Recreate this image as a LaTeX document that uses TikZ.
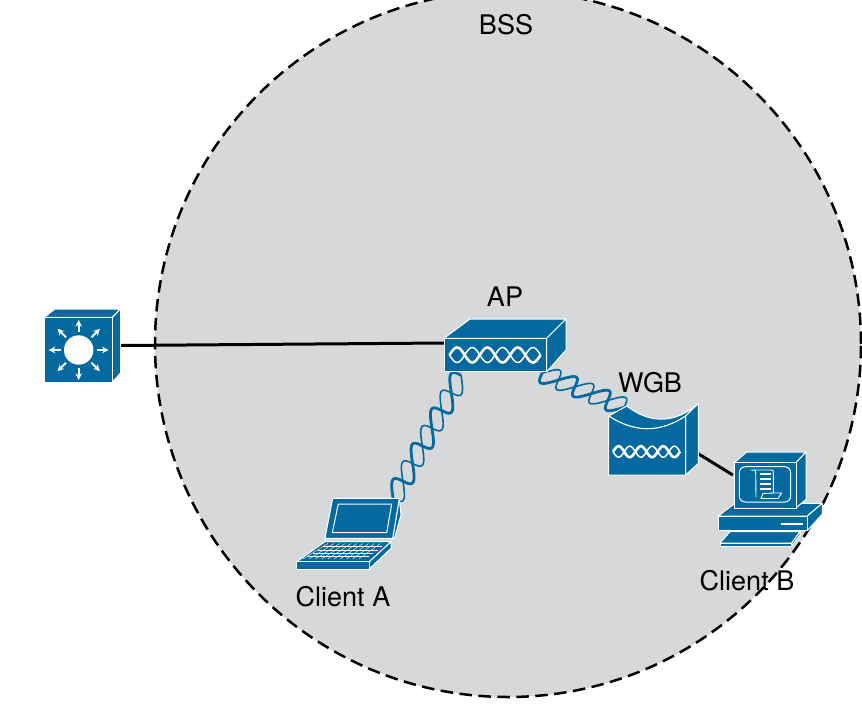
\documentclass[tikz,border=0pt]{standalone}
\usepackage{fontspec}
\setmainfont{TeX Gyre Heros}
\usetikzlibrary{calc}
\definecolor{ciscoblue}{HTML}{04699E}
\definecolor{cellgray}{HTML}{D7D8DA}
\tikzstyle{cell} = [draw, circle, fill=cellgray, line width=2.5pt, dash pattern=on 12.5pt off 6.5pt, minimum size=706pt, inner sep=0pt]
\tikzstyle{device} = [rectangle, inner sep=0pt]
\tikzstyle{tag} = [inner sep=0pt, font=\fontsize{27}{30}\selectfont]
\tikzstyle{wire} = [draw, line width=3pt]
\tikzstyle{radio} = [draw=ciscoblue, line join=round]
\tikzstyle{face} = [fill=ciscoblue, draw=white, line width=1pt, line join=round]
\tikzstyle{trim} = [draw=white, line width=1pt]
\newcommand{\helixmark}[5]{% x start, x end, y centre, amplitude, lobes
  \draw [white, line width=1.5pt] plot [domain=#1:#2, samples=90, smooth] (\x, {#3+#4*sin((\x-#1)/(#2-#1)*180*#5)});
  \draw [white, line width=2.6pt] plot [domain=#1:#2, samples=90, smooth] (\x, {#3-#4*sin((\x-#1)/(#2-#1)*180*#5)});
}
\newcommand{\radiostrand}[5]{% from, to, periods, side, width
  \draw [radio, line width=#5] let \p1=(#1), \p2=(#2), \n1={atan2(\y2-\y1,\x2-\x1)}, \n2={veclen(\x2-\x1,\y2-\y1)} in
    plot [variable=\t, domain=0:#3, samples=200]
    ({\x1+(\n2*\t/#3+#4*6*sin(360*\t))*cos(\n1)-#4*9.5*sin(360*\t)*sin(\n1)},
     {\y1+(\n2*\t/#3+#4*6*sin(360*\t))*sin(\n1)+#4*9.5*sin(360*\t)*cos(\n1)});
}
\newcommand{\radiolink}[3]{% from, to, periods
  \radiostrand{#1}{#2}{#3}{1}{1.6pt}
  \radiostrand{#1}{#2}{#3}{-1}{2.8pt}
}
\begin{document}
\begin{tikzpicture}[x=1pt, y=-1pt, >=stealth]
    \useasboundingbox (0,0) rectangle (862,718);
    \clip (0,0) rectangle (862,718);
    \node [cell] (bss) at (508,344) {};

    \node [device, minimum width=76.5pt, minimum height=73pt] (switch) at (82.5,345.5) {};
    \node [device, minimum width=122pt, minimum height=53pt] (ap) at (505,345.5) {};
    \node [device, minimum width=90pt, minimum height=75pt] (wgb) at (653.5,438) {};
    \node [device, minimum width=103pt, minimum height=71pt] (clienta) at (348.5,533.5) {};
    \node [device, minimum width=104pt, minimum height=93pt] (clientb) at (770,498.5) {};

    \node [tag] (bsslabel) at (506,25) {BSS};
    \node [tag] (aplabel) at (505,297) {AP};
    \node [tag] (wgblabel) at (650,383) {WGB};
    \node [tag] (clientalabel) at (343,597) {Client A};
    \node [tag] (clientblabel) at (747,581) {Client B};

    \draw [wire] (switch.east) -- ([yshift=2.5pt]ap.west);
    \draw [wire] ([yshift=-16pt]wgb.east) -- ([xshift=15pt,yshift=23.5pt]clientb.west);
    \radiolink{[xshift=-44pt,yshift=-3pt]ap.south}{[xshift=-7pt,yshift=-1pt]clienta.north east}{3.5}
    \radiolink{[xshift=37pt,yshift=-1pt]ap.south}{[xshift=16pt,yshift=-7pt]wgb.north west}{2.5}

    % switch
    \draw [face] (44.3,317.3) -- (55,309) -- (120.5,309) -- (112.3,317.3) -- cycle;
    \draw [face] (112.3,317.3) -- (120.5,309) -- (120.5,373) -- (112.3,382.3) -- cycle;
    \draw [face] (44.3,317.3) rectangle (112.3,382.3);
    \fill [white] (78.7,350) circle (14.7);
    \foreach \a in {0,45,...,315}
      \draw [->, white, line width=1.9pt] (78.7,350) ++(\a:18) -- ++(\a:12);

    % ap
    \draw [face] (444,338.3) -- (470,319) -- (566,319) -- (546.7,338.3) -- cycle;
    \draw [face] (546.7,338.3) -- (566,319) -- (566,350) -- (546.7,371.7) -- cycle;
    \draw [face] (444,338.3) rectangle (546.7,371.7);
    \helixmark{449.5}{540.5}{355}{7.5}{6}

    % wgb
    \draw [face] (608.7,416) .. controls (635,433) and (660,433) .. (685.7,416)
      -- (698.3,403.5) .. controls (675,424) and (650,424) .. (626.7,406) -- cycle;
    \draw [face] (685.7,416) -- (698.3,403.5) -- (698.3,463.3) -- (685.7,475) -- cycle;
    \draw [face] (608.7,416) .. controls (635,433) and (660,433) .. (685.7,416) -- (685.7,475) -- (608.7,475) -- cycle;
    \helixmark{613}{680}{451.7}{5.5}{6}

    % client a
    \draw [face] (399.3,498.3) -- (401,515) -- (394.5,538.3) -- (392.7,538.3) -- cycle;
    \draw [face] (332.7,498.3) -- (399.3,498.3) -- (392.7,538.3) -- (325,538.3) -- cycle;
    \draw [trim] (338.3,504) -- (391.7,504) -- (386.7,532.7) -- (332.3,532.7) -- cycle;
    \draw [face] (296.7,561.7) -- (325,541.7) -- (391,541.7) -- (369.3,561.7) -- cycle;
    \draw [face] (369.3,561.7) -- (391,541.7) -- (391,548.3) -- (369.3,569) -- cycle;
    \draw [face] (296.7,561.7) rectangle (369.3,569);
    \foreach \t in {0.2,0.4,0.6,0.8}
      \draw [white, line width=.4pt] ($(303,559)!\t!(328,543.5)$) -- ($(365,559)!\t!(386,543.5)$);
    \foreach \t in {0,0.1,...,1}
      \draw [white, line width=.4pt] ($(303,559)!\t!(365,559)$) -- ($(328,543.5)!\t!(386,543.5)$);

    % client b
    \draw [face] (718.3,516) -- (735,503.3) -- (822.3,503.3) -- (807.3,516) -- cycle;
    \draw [face] (807.3,516) -- (822.3,503.3) -- (822.3,514) -- (807.3,530.7) -- cycle;
    \draw [face] (718.3,516) rectangle (807.3,530.7);
    \draw [white, line width=1.7pt] (780.7,524.3) -- (802.7,524.3);
    \draw [face] (734.3,462.7) -- (746.7,452) -- (806,452) -- (796,462.7) -- cycle;
    \draw [face] (796,462.7) -- (806,452) -- (806,499.3) -- (796,508) -- cycle;
    \draw [face] (734.3,462.7) rectangle (796,508);
    \draw [trim, rounded corners=6pt] (739.3,466.7) rectangle (790.7,502);
    \draw [trim, line width=.9pt] (756,497) -- (755.7,474) .. controls (755.7,470) .. (750.5,470) -- (771,470)
      .. controls (773.3,470) .. (773.3,474) -- (773.3,493) -- (781.5,493) -- (778,498.5) -- (761,498.5) -- (763,493.5) -- (773.3,493);
    \foreach \yy in {474,479,484,489}
      \draw [white, line width=1.2pt] (760,\yy) -- (770.5,\yy);
    \draw [face] (720,543) -- (730,531.7) -- (800,531.7) -- (791.7,543) -- cycle;
    \draw [face] (720,543) rectangle (791.7,546);
    \draw [face] (791.7,543) -- (800,531.7) -- (800,535) -- (791.7,546) -- cycle;
\end{tikzpicture}
\end{document}
